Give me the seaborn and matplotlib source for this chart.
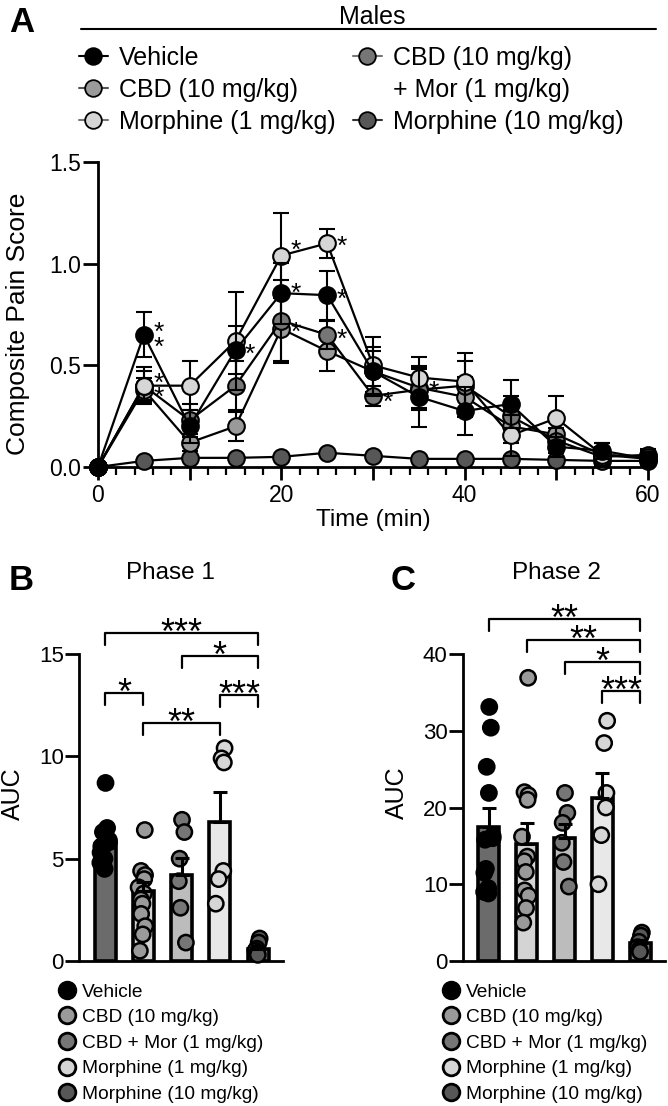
import numpy as np
import pandas as pd
import matplotlib
matplotlib.use('Agg')
import matplotlib.pyplot as plt
import matplotlib.transforms as mtransforms
import seaborn as sns
from matplotlib.lines import Line2D
from matplotlib.ticker import MultipleLocator

sns.set_style('ticks')
plt.rcParams['font.family'] = ['Liberation Sans', 'DejaVu Sans']
for key in ['text.color', 'axes.labelcolor', 'xtick.color', 'ytick.color', 'axes.edgecolor']:
    plt.rcParams[key] = 'black'

# ========================================
# Data
# ========================================
groups = ['Vehicle', 'CBD (10 mg/kg)', 'CBD + Mor (1 mg/kg)', 'Morphine (1 mg/kg)', 'Morphine (10 mg/kg)']
dot_colors = ['#000000', '#9a9a9a', '#767676', '#d6d6d6', '#575757']
bar_colors = ['#6b6b6b', '#d4d4d4', '#bcbcbc', '#e8e8e8', '#7a7a7a']

# Panel A: time course (mean, SEM)
time_min = [0, 5, 10, 15, 20, 25, 30, 35, 40, 45, 50, 55, 60]
time_ticks = [0, 10, 20, 30, 40, 50, 60]
time_labels = ['0', '', '20', '', '40', '', '60']
score_vehicle = [0, 0.65, 0.20, 0.575, 0.855, 0.845, 0.47, 0.345, 0.275, 0.31, 0.10, 0.08, 0.04]
sem_vehicle = [0, 0.11, 0.08, 0.12, 0.15, 0.12, 0.12, 0.15, 0.12, 0.12, 0.05, 0.04, 0.03]
score_cbd = [0, 0.38, 0.12, 0.20, 0.68, 0.57, 0.47, 0.39, 0.345, 0.20, 0.16, 0.06, 0.04]
sem_cbd = [0, 0.06, 0.04, 0.07, 0.17, 0.10, 0.10, 0.10, 0.10, 0.08, 0.06, 0.04, 0.03]
score_cbdmor = [0, 0.40, 0.23, 0.40, 0.72, 0.65, 0.35, 0.38, 0.40, 0.25, 0.13, 0.05, 0.06]
sem_cbdmor = [0, 0.09, 0.08, 0.12, 0.20, 0.07, 0.05, 0.10, 0.12, 0.10, 0.06, 0.04, 0.03]
score_morph1 = [0, 0.40, 0.40, 0.62, 1.04, 1.10, 0.50, 0.44, 0.42, 0.155, 0.24, 0.06, 0.05]
sem_morph1 = [0, 0.07, 0.12, 0.24, 0.21, 0.07, 0.14, 0.10, 0.14, 0.10, 0.11, 0.06, 0.03]
score_morph10 = [0, 0.03, 0.045, 0.045, 0.05, 0.07, 0.055, 0.04, 0.04, 0.04, 0.035, 0.03, 0.03]
sem_morph10 = [0, 0.01, 0.01, 0.01, 0.01, 0.01, 0.01, 0.01, 0.01, 0.01, 0.01, 0.01, 0.01]

star_time = [5, 5, 15, 20, 20, 20, 25, 25, 25, 30, 35]
star_val = [0.652, 0.402, 0.58, 1.09, 0.88, 0.69, 1.11, 0.85, 0.655, 0.345, 0.40]
star_mark = ['*\n*', '*\n*', '*', '*', '*', '*', '*', '*', '*', '*', '*']

# Panel B: Phase 1 AUC
p1_vehicle = [8.7, 6.5, 6.3, 6.2, 5.9, 5.8, 5.6, 5.5, 5.3, 5.0, 4.8, 4.5]
p1_cbd = [6.4, 4.4, 4.2, 4.0, 3.6, 3.3, 3.0, 2.8, 2.3, 1.7, 1.3, 0.5]
p1_cbdmor = [6.9, 6.3, 5.0, 3.9, 2.6, 0.9]
p1_morph1 = [10.4, 9.9, 9.7, 4.4, 4.0, 2.8]
p1_morph10 = [1.1, 0.9, 0.6, 0.5, 0.4, 0.3]
p1_mean = [5.7, 3.4, 4.2, 6.8, 0.6]
p1_sem = [0.4, 0.45, 0.85, 1.45, 0.15]
p1_pairs = [(0, 4), (2, 4), (0, 1), (3, 4), (1, 3)]
p1_heights = [16.05, 14.9, 13.1, 13.0, 11.65]
p1_stars = ['***', '*', '*', '***', '**']

# Panel C: Phase 2 AUC
p2_vehicle = [33.1, 30.4, 25.3, 21.9, 16.3, 16.0, 15.8, 12.0, 11.5, 9.5, 9.0, 8.8]
p2_cbd = [36.9, 22.0, 21.6, 21.0, 16.2, 13.6, 13.0, 11.6, 9.2, 8.5, 6.9, 5.0]
p2_cbdmor = [21.9, 19.3, 18.0, 15.4, 12.9, 9.7]
p2_morph1 = [31.3, 28.4, 21.9, 20.0, 16.4, 10.0]
p2_morph10 = [3.7, 3.3, 2.5, 1.8, 1.5, 1.2]
p2_mean = [17.5, 15.3, 16.0, 21.3, 2.3]
p2_sem = [2.5, 2.7, 1.8, 3.2, 0.4]
p2_pairs = [(0, 4), (1, 4), (2, 4), (3, 4)]
p2_heights = [44.6, 41.85, 39.0, 35.2]
p2_stars = ['**', '**', '*', '***']


# ========================================
# Helpers
# ========================================
def star_text(ax, x, y, s, size, dy_pt, va='baseline', ls=1.2):
    # shift text so the asterisk glyphs land on (x, y)
    tr = mtransforms.offset_copy(ax.transData, fig=ax.figure, x=0, y=dy_pt, units='points')
    ax.text(x, y, s, fontsize=size, ha='center', va=va, transform=tr, clip_on=False,
            linespacing=ls, zorder=20)


def style_axis(ax):
    for side in ['top', 'right']:
        ax.spines[side].set_visible(False)
    for side in ['left', 'bottom']:
        ax.spines[side].set_linewidth(2)


def auc_panel(ax, values, means, sems, pairs, heights, stars, ymax, step, leg_len):
    sns.barplot(x=groups, y=means, hue=groups, palette=bar_colors, order=groups, hue_order=groups,
                legend=False, width=0.55, edgecolor='black', linewidth=2.6, errorbar=None, ax=ax, zorder=1)
    long = pd.DataFrame({'group': np.repeat(groups, [len(v) for v in values]),
                         'auc': np.concatenate(values)})
    np.random.seed(3)
    sns.stripplot(data=long, x='group', y='auc', hue='group', palette=dot_colors, order=groups,
                  hue_order=groups, jitter=0.13, size=11, edgecolor='black', linewidth=1.8,
                  legend=False, ax=ax, clip_on=False, zorder=3)
    ax.errorbar(range(len(groups)), means, yerr=[np.zeros(len(sems)), sems], fmt='none',
                ecolor='black', elinewidth=2.2, capsize=5, capthick=2.2, zorder=4)
    for (a, b), h, s in zip(pairs, heights, stars):
        ax.plot([a, a, b, b], [h - leg_len, h, h, h - leg_len], color='black', lw=1.6, clip_on=False)
        star_text(ax, (a + b) / 2, h, s, 26, -8.2)
    ax.set_xlim(-0.68, 4.65)
    ax.set_ylim(0, ymax)
    ax.yaxis.set_major_locator(MultipleLocator(step))
    ax.set_xticks([])
    ax.set_xlabel('')
    ax.set_ylabel('AUC', fontsize=18)
    style_axis(ax)
    ax.tick_params(axis='y', labelsize=16, width=2, length=10, pad=1)
    handles = [Line2D([], [], ls='none', marker='o', markersize=12, markerfacecolor=c,
                      markeredgecolor='black', markeredgewidth=2) for c in dot_colors]
    ax.legend(handles, groups, loc='upper left', bbox_to_anchor=(-0.105, -0.072), frameon=False,
              fontsize=13.8, handlelength=1.0, handletextpad=0.25, labelspacing=0.43, borderpad=0,
              borderaxespad=0)


# ========================================
# Figure
# ========================================
fig = plt.figure(figsize=(6.68, 11.06), dpi=100)

# ---- Panel A ----
axA = fig.add_axes([98 / 668, 1 - 467 / 1106, 550 / 668, 305 / 1106])
series = [
    (score_morph10, sem_morph10, dot_colors[4]),
    (score_cbd, sem_cbd, dot_colors[1]),
    (score_cbdmor, sem_cbdmor, dot_colors[2]),
    (score_morph1, sem_morph1, dot_colors[3]),
    (score_vehicle, sem_vehicle, dot_colors[0]),
]
for i, (vals, sem, col) in enumerate(series):
    axA.errorbar(time_min, vals, yerr=sem, fmt='none', ecolor='black', elinewidth=1.5,
                 capsize=6, capthick=1.5, zorder=2 + 2 * i, clip_on=False)
    sns.lineplot(x=time_min, y=vals, color='black', lw=1.6, marker='o', markersize=12,
                 markerfacecolor=col, markeredgecolor='black', markeredgewidth=1.5,
                 ax=axA, zorder=3 + 2 * i, clip_on=False)
for t, v, m in zip(star_time, star_val, star_mark):
    star_text(axA, t + 1.6, v, m, 19, -4.2, va='center', ls=0.5)

axA.set_xlim(0, 60)
axA.set_ylim(0, 1.5)
axA.set_xticks(time_ticks, labels=time_labels)
axA.xaxis.set_minor_locator(MultipleLocator(2))
axA.set_yticks([0, 0.5, 1.0, 1.5])
axA.set_yticklabels(['0.0', '0.5', '1.0', '1.5'])
axA.tick_params(axis='x', which='major', labelsize=16.5, width=2, length=9, pad=3)
axA.tick_params(axis='y', which='major', labelsize=16.5, width=2, length=11, pad=1)
axA.tick_params(axis='x', which='minor', width=1.6, length=5.5)
style_axis(axA)
axA.set_xlabel('Time (min)', fontsize=17.5, labelpad=2)
axA.set_ylabel('Composite Pain Score', fontsize=19)
axA.yaxis.set_label_coords(-0.124, 0.47)


def legend_handle(face, line):
    return Line2D([], [], color=line, lw=1.5, marker='o', markersize=12, markerfacecolor=face,
                  markeredgecolor='black', markeredgewidth=1.3)


legend_kw = dict(loc='upper left', frameon=False, fontsize=18, handlelength=1.15, handletextpad=0.45,
                 labelspacing=0.32, borderpad=0, borderaxespad=0)
fig.legend([legend_handle(dot_colors[0], 'black'), legend_handle(dot_colors[1], '#555555'),
            legend_handle(dot_colors[3], '#777777')],
           ['Vehicle', 'CBD (10 mg/kg)', 'Morphine (1 mg/kg)'],
           bbox_to_anchor=(79 / 668, 1 - 46 / 1106), **legend_kw)
fig.legend([legend_handle(dot_colors[2], '#777777'), Line2D([], [], ls='none'),
            legend_handle(dot_colors[4], '#333333')],
           ['CBD (10 mg/kg)', '+ Mor (1 mg/kg)', 'Morphine (10 mg/kg)'],
           bbox_to_anchor=(353 / 668, 1 - 46 / 1106), **legend_kw)

fig.text(22 / 668, 1 - 23 / 1106, 'A', fontsize=25, fontweight='bold', ha='center', va='center')
fig.text(372 / 668, 1 - 17 / 1106, 'Males', fontsize=18, ha='center', va='center')
fig.add_artist(Line2D([81 / 668, 656 / 668], [1 - 29 / 1106, 1 - 29 / 1106], color='black', lw=1.5))

# ---- Panel B ----
axB = fig.add_axes([79 / 668, 1 - 961 / 1106, 204 / 668, 307 / 1106])
auc_panel(axB, [p1_vehicle, p1_cbd, p1_cbdmor, p1_morph1, p1_morph10], p1_mean, p1_sem,
          p1_pairs, p1_heights, p1_stars, 15, 5, 0.6)
axB.yaxis.set_label_coords(-0.265, 0.544)
fig.text(21 / 668, 1 - 580 / 1106, 'B', fontsize=25, fontweight='bold', ha='center', va='center')
fig.text(170 / 668, 1 - 573 / 1106, 'Phase 1', fontsize=17.5, ha='center', va='center')

# ---- Panel C ----
axC = fig.add_axes([463 / 668, 1 - 961 / 1106, 202 / 668, 307 / 1106])
auc_panel(axC, [p2_vehicle, p2_cbd, p2_cbdmor, p2_morph1, p2_morph10], p2_mean, p2_sem,
          p2_pairs, p2_heights, p2_stars, 40, 10, 1.55)
axC.yaxis.set_label_coords(-0.27, 0.547)
fig.text(403 / 668, 1 - 580 / 1106, 'C', fontsize=25, fontweight='bold', ha='center', va='center')
fig.text(556 / 668, 1 - 573 / 1106, 'Phase 2', fontsize=17.5, ha='center', va='center')

fig.savefig('out.png', dpi=100)
